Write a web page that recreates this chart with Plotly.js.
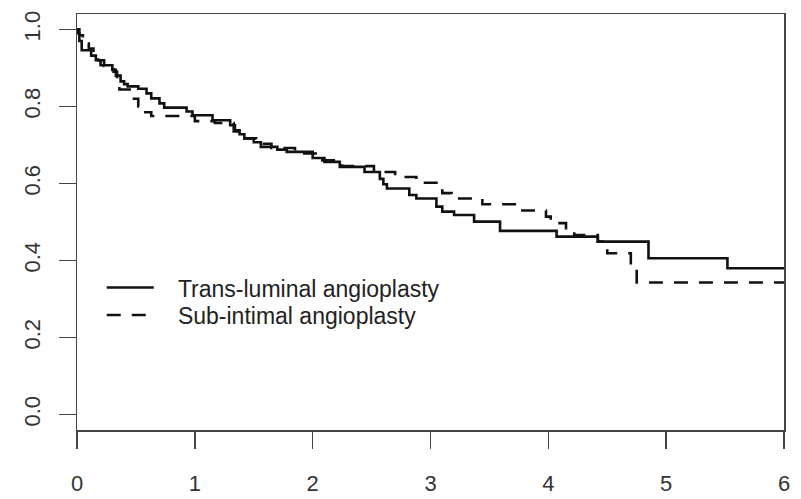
<!DOCTYPE html>
<html>
<head>
<meta charset="utf-8">
<script src="https://cdn.plot.ly/plotly-3.0.1.min.js"></script>
<style>html,body{margin:0;padding:0;background:#fff;}#chart{width:801px;height:499px;}</style>
</head>
<body>
<div id="chart"></div>
<script>
// Kaplan-Meier step data (time in years, survival probability)
const transName = "Trans-luminal angioplasty";
const transTime = [0, 0.01, 0.02, 0.04, 0.12, 0.16, 0.2, 0.3, 0.33, 0.37, 0.40, 0.43, 0.52, 0.59, 0.63, 0.70, 0.74, 0.93, 0.98, 1.15, 1.30, 1.34, 1.38, 1.42, 1.50, 1.56, 1.70, 1.78, 2.00, 2.10, 2.23, 2.44, 2.57, 2.60, 2.63, 2.82, 2.88, 3.05, 3.10, 3.20, 3.37, 3.59, 4.07, 4.42, 4.85, 5.52, 6.0];
const transSurv = [1.0, 0.99, 0.97, 0.946, 0.932, 0.92, 0.907, 0.895, 0.88, 0.865, 0.858, 0.852, 0.846, 0.834, 0.821, 0.808, 0.797, 0.787, 0.777, 0.764, 0.751, 0.738, 0.728, 0.717, 0.707, 0.695, 0.688, 0.682, 0.666, 0.656, 0.643, 0.630, 0.612, 0.598, 0.587, 0.570, 0.561, 0.540, 0.527, 0.518, 0.501, 0.477, 0.462, 0.449, 0.406, 0.380, 0.380];

const subName = "Sub-intimal angioplasty";
const subTime = [0, 0.02, 0.05, 0.10, 0.14, 0.18, 0.23, 0.31, 0.34, 0.36, 0.47, 0.52, 0.58, 0.63, 1.0, 1.17, 1.33, 1.40, 1.52, 1.65, 1.85, 2.05, 2.25, 2.52, 2.70, 2.88, 3.05, 3.10, 3.18, 3.44, 3.76, 3.98, 4.02, 4.15, 4.22, 4.42, 4.50, 4.70, 4.75, 6.0];
const subSurv = [1.0, 0.985, 0.963, 0.95, 0.935, 0.92, 0.905, 0.89, 0.87, 0.844, 0.82, 0.80, 0.785, 0.775, 0.762, 0.757, 0.735, 0.717, 0.703, 0.692, 0.678, 0.660, 0.645, 0.630, 0.617, 0.602, 0.588, 0.575, 0.561, 0.546, 0.530, 0.514, 0.497, 0.479, 0.466, 0.449, 0.419, 0.38, 0.343, 0.343];

const xTicks = [0, 1, 2, 3, 4, 5, 6];
const yTicks = [0, 0.2, 0.4, 0.6, 0.8, 1.0];
const yTickText = ["0.0", "0.2", "0.4", "0.6", "0.8", "1.0"];

const pad = "\u00a0\u00a0\u00a0";

const traces = [
  {x: transTime, y: transSurv, name: pad + transName, type: "scatter", mode: "lines", legend: "legend",
   line: {shape: "hv", color: "#111", width: 2.6}},
  {x: subTime, y: subSurv, name: pad + subName, type: "scatter", mode: "lines", legend: "legend2",
   line: {shape: "hv", color: "#111", width: 2.6, dash: "14px,11px"}}
];

const axisCommon = {
  showline: true, mirror: true, linecolor: "#444", linewidth: 1.5,
  ticks: "outside", ticklen: 17, tickwidth: 1.5, tickcolor: "#444",
  showgrid: false, zeroline: false,
  tickfont: {family: "Liberation Sans, Arial, sans-serif", size: 22, color: "#333"}
};

const legendCommon = {
  xanchor: "left", yanchor: "top", bgcolor: "rgba(0,0,0,0)", borderwidth: 0,
  itemwidth: 47,
  font: {family: "Liberation Sans, Arial, sans-serif", size: 23, color: "#222"}
};

const layout = {
  width: 801, height: 499,
  margin: {l: 77, r: 17, t: 14, b: 69},
  paper_bgcolor: "#fff", plot_bgcolor: "#fff",
  showlegend: true,
  legend: Object.assign({}, legendCommon, {x: 0.035, y: 0.394}),
  legend2: Object.assign({}, legendCommon, {x: 0.035, y: 0.328}),
  xaxis: Object.assign({}, axisCommon, {range: [0, 6], tickvals: xTicks, ticktext: xTicks.map(String), ticklabelstandoff: 16}),
  yaxis: Object.assign({}, axisCommon, {range: [-0.04, 1.04], tickvals: yTicks, ticktext: yTickText, tickangle: -90, ticklabelstandoff: 10})
};

Plotly.newPlot("chart", traces, layout, {displayModeBar: false, staticPlot: true});
</script>
</body>
</html>
